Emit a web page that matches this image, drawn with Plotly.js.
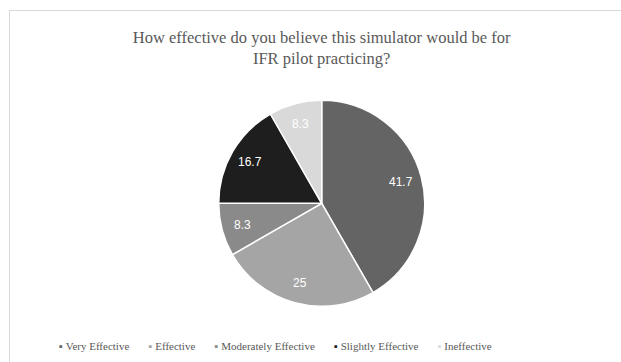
<!DOCTYPE html>
<html>
<head>
<meta charset="utf-8">
<script src="https://cdn.plot.ly/plotly-3.0.1.min.js"></script>
<style>
  html, body { margin: 0; padding: 0; background: #ffffff; }
  #frame { position: absolute; left: 9px; top: 10px; width: 640px; height: 380px;
           border-left: 1px solid #d9d9d9; border-top: 1px solid #d9d9d9; pointer-events: none; }
  #chart { position: absolute; left: 0; top: 0; width: 621px; height: 362px; }
</style>
</head>
<body>
<div id="chart"></div>
<div id="frame"></div>
<script>
const categories = ["Very Effective", "Effective", "Moderately Effective", "Slightly Effective", "Ineffective"];
const values = [41.7, 25, 8.3, 16.7, 8.3];
const colors = ["#646464", "#a5a5a5", "#8a8a8a", "#1e1e1e", "#d9d9d9"];

const W = 621, H = 362;
const dom = { x: [0.3522, 0.6839], y: [0.1539, 0.7229] };

const pieTrace = {
  type: "pie",
  labels: categories,
  values: values,
  sort: false,
  direction: "clockwise",
  rotation: 0,
  marker: { colors: colors, line: { color: "#ffffff", width: 1.5 } },
  textinfo: "none",
  hoverinfo: "label+value",
  showlegend: false,
  domain: dom
};

// data labels placed along each slice's mid-angle (computed from the values)
const cx = (dom.x[0] + dom.x[1]) / 2 * W;
const cy = (1 - (dom.y[0] + dom.y[1]) / 2) * H;
const rad = Math.min((dom.x[1] - dom.x[0]) * W, (dom.y[1] - dom.y[0]) * H) / 2;
const labelFrac = 0.80;
const total = values.reduce((a, b) => a + b, 0);
let cum = 0;
const labelAnns = values.map((v) => {
  const mid = (cum + v / 2) / total * 2 * Math.PI;
  cum += v;
  const px = cx + rad * labelFrac * Math.sin(mid);
  const py = cy - rad * labelFrac * Math.cos(mid);
  return {
    xref: "paper", yref: "paper", x: px / W, y: 1 - py / H,
    xanchor: "center", yanchor: "middle", showarrow: false,
    text: String(v),
    font: { family: "Liberation Sans, Arial, sans-serif", size: 12, color: "#ffffff" }
  };
});

// legend line built from categories and colours
const nb = "\u00a0";
const legendText = categories.map((c, i) =>
  '<span style="color:' + colors[i] + '">\u25aa</span>' + nb + c
).join(nb.repeat(7));

const legendAnn = {
  xref: "paper", yref: "paper", x: 57 / W, y: 16 / H,
  xanchor: "left", yanchor: "middle", showarrow: false,
  text: legendText,
  font: { family: "Liberation Serif, Times New Roman, serif", size: 11, color: "#595959" }
};

const layout = {
  width: W, height: H,
  margin: { l: 0, r: 0, t: 0, b: 0 },
  paper_bgcolor: "rgba(0,0,0,0)",
  plot_bgcolor: "rgba(0,0,0,0)",
  title: {
    text: "How effective do you believe this simulator would be for<br>IFR pilot practicing?",
    font: { family: "Liberation Serif, Times New Roman, serif", size: 16.5, color: "#595959" },
    x: 0.518, xanchor: "center",
    y: 1 - 43 / H, yanchor: "top", yref: "container"
  },
  showlegend: false,
  annotations: labelAnns.concat([legendAnn])
};

Plotly.newPlot("chart", [pieTrace], layout, { displayModeBar: false, staticPlot: true });
</script>
</body>
</html>
